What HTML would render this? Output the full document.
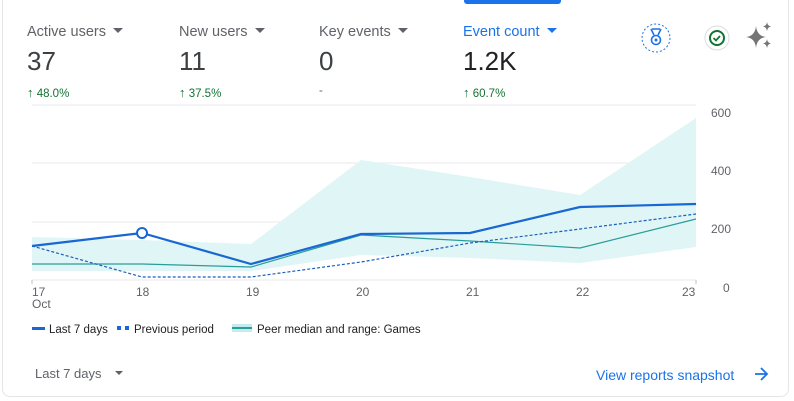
<!DOCTYPE html>
<html><head><meta charset="utf-8"><style>
body{margin:0;width:794px;height:401px;background:#fff;font-family:"Liberation Sans",sans-serif;position:relative;overflow:hidden}
.card{position:absolute;left:2px;top:-10px;width:787px;height:407px;border:1px solid #e3e5e8;border-radius:8px;box-sizing:border-box}
.tab{position:absolute;left:464px;top:0;width:97px;height:4px;background:#1a73e8;border-radius:0 0 3px 3px}
.m{position:absolute;top:24px}
.lab{font-size:14.5px;color:#5f6368;white-space:nowrap}
.lab .c{display:inline-block;width:0;height:0;border-left:5px solid transparent;border-right:5px solid transparent;border-top:5px solid #5f6368;margin-left:7px;vertical-align:3px}
.val{font-size:26px;color:#3c4043;margin-top:6px}
.pct{font-size:11.5px;color:#137333;margin-top:8px}
.pct b{font-size:13px}
.t{position:absolute;font-size:12px;color:#5f6368}
.leg{position:absolute;top:324px;font-size:11.5px;color:#202124}
</style></head><body>
<div class="card"></div>
<div class="tab"></div>
<div class="m" style="left:27px"><div class="lab">Active users<span class="c"></span></div><div class="val">37</div><div class="pct"><b>↑</b> 48.0%</div></div>
<div class="m" style="left:179px"><div class="lab">New users<span class="c"></span></div><div class="val">11</div><div class="pct"><b>↑</b> 37.5%</div></div>
<div class="m" style="left:319px"><div class="lab">Key events<span class="c"></span></div><div class="val">0</div><div class="pct" style="color:#5f6368">-</div></div>
<div class="m" style="left:463px"><div class="lab" style="color:#1a73e8">Event count<span class="c" style="border-top-color:#1a73e8"></span></div><div class="val" style="color:#202124">1.2K</div><div class="pct"><b>↑</b> 60.7%</div></div>
<svg style="position:absolute;left:0;top:0" width="794" height="401">
<circle cx="656" cy="38" r="14" fill="none" stroke="#1a73e8" stroke-dasharray="2 2"/>
<path d="M651 29l3 6M661 29l-3 6M652 29h8" fill="none" stroke="#1a73e8" stroke-width="1.6"/>
<circle cx="656" cy="40" r="4.5" fill="none" stroke="#1a73e8" stroke-width="1.6"/>
<circle cx="656" cy="40" r="1.5" fill="#1a73e8"/>
<circle cx="717" cy="38" r="12" fill="#fff" stroke="#dadce0"/>
<circle cx="717" cy="38" r="7" fill="none" stroke="#137333" stroke-width="2"/>
<path d="M713.5 38l2.5 2.5 4-4.5" fill="none" stroke="#137333" stroke-width="1.8"/>
<path d="M756 26q1 10 10 11q-9 1-10 11q-1-10-10-11q9-1 10-11z" fill="#757575"/>
<path d="M767 22q.5 4 4 4.5q-3.5.5-4 4.5q-.5-4-4-4.5q3.5-.5 4-4.5zM767 39q.5 4 4 4.5q-3.5.5-4 4.5q-.5-4-4-4.5q3.5-.5 4-4.5z" fill="#757575"/>
<g stroke="#e8eaed" stroke-width="1">
<line x1="32" y1="105" x2="696" y2="105"/><line x1="32" y1="163" x2="696" y2="163"/><line x1="32" y1="222" x2="696" y2="222"/><line x1="32" y1="280" x2="696" y2="280"/>
</g>
<polygon points="32,237 142,240 251,244 361,160 470,177 580,195 696,118 696,247 580,263 470,258 361,255 251,271 142,271 32,271" fill="#e0f5f5"/>
<polyline points="32,264 142,264 251,267 361,235 470,241 580,248 696,219" fill="none" stroke="#2a9d9a" stroke-width="1.2"/>
<polyline points="32,246 142,277 251,277 361,262 470,243 580,229 696,214" fill="none" stroke="#1a5fbf" stroke-width="1.2" stroke-dasharray="3 2"/>
<polyline points="32,246 142,233 251,264 361,234 470,233 580,207 696,204" fill="none" stroke="#1967d2" stroke-width="2.2"/>
<circle cx="142" cy="233" r="5" fill="#fff" stroke="#1967d2" stroke-width="2"/>
<g stroke="#bdc1c6"><line x1="32" y1="280" x2="32" y2="284"/><line x1="696" y1="280" x2="696" y2="284"/></g>
<path d="M755 374h11M761 368l6 6-6 6" fill="none" stroke="#1a73e8" stroke-width="1.8"/>
</svg>
<div class="t" style="left:711px;top:106px">600</div>
<div class="t" style="left:711px;top:164px">400</div>
<div class="t" style="left:711px;top:222px">200</div>
<div class="t" style="left:723px;top:281px">0</div>
<div class="t" style="left:32px;top:285px">17</div>
<div class="t" style="left:32px;top:297px">Oct</div>
<div class="t" style="left:136px;top:285px">18</div>
<div class="t" style="left:246px;top:285px">19</div>
<div class="t" style="left:356px;top:285px">20</div>
<div class="t" style="left:466px;top:285px">21</div>
<div class="t" style="left:576px;top:285px">22</div>
<div class="t" style="left:682px;top:285px">23</div>
<div class="leg" style="left:32px"><span style="display:inline-block;width:13px;height:3px;background:#1967d2;vertical-align:3px;margin-right:4px"></span>Last 7 days</div>
<div class="leg" style="left:117px"><span style="display:inline-block;width:4px;height:4px;background:#1967d2;vertical-align:3px;margin-right:4px"></span><span style="display:inline-block;width:4px;height:4px;background:#1967d2;vertical-align:3px;margin-right:5px"></span>Previous period</div>
<div class="leg" style="left:232px"><span style="display:inline-block;width:20px;height:8px;vertical-align:1px;margin-right:5px;background:linear-gradient(#c5ecec 3px,#2a9d9a 3px,#2a9d9a 5px,#c5ecec 5px)"></span>Peer median and range: Games</div>
<div style="position:absolute;left:35px;top:366px;font-size:13px;color:#5f6368">Last 7 days<span style="display:inline-block;border-left:4px solid transparent;border-right:4px solid transparent;border-top:4px solid #5f6368;margin-left:13px;vertical-align:3px"></span></div>
<div style="position:absolute;left:596px;top:367px;font-size:14px;color:#1a73e8">View reports snapshot</div>
</body></html>
